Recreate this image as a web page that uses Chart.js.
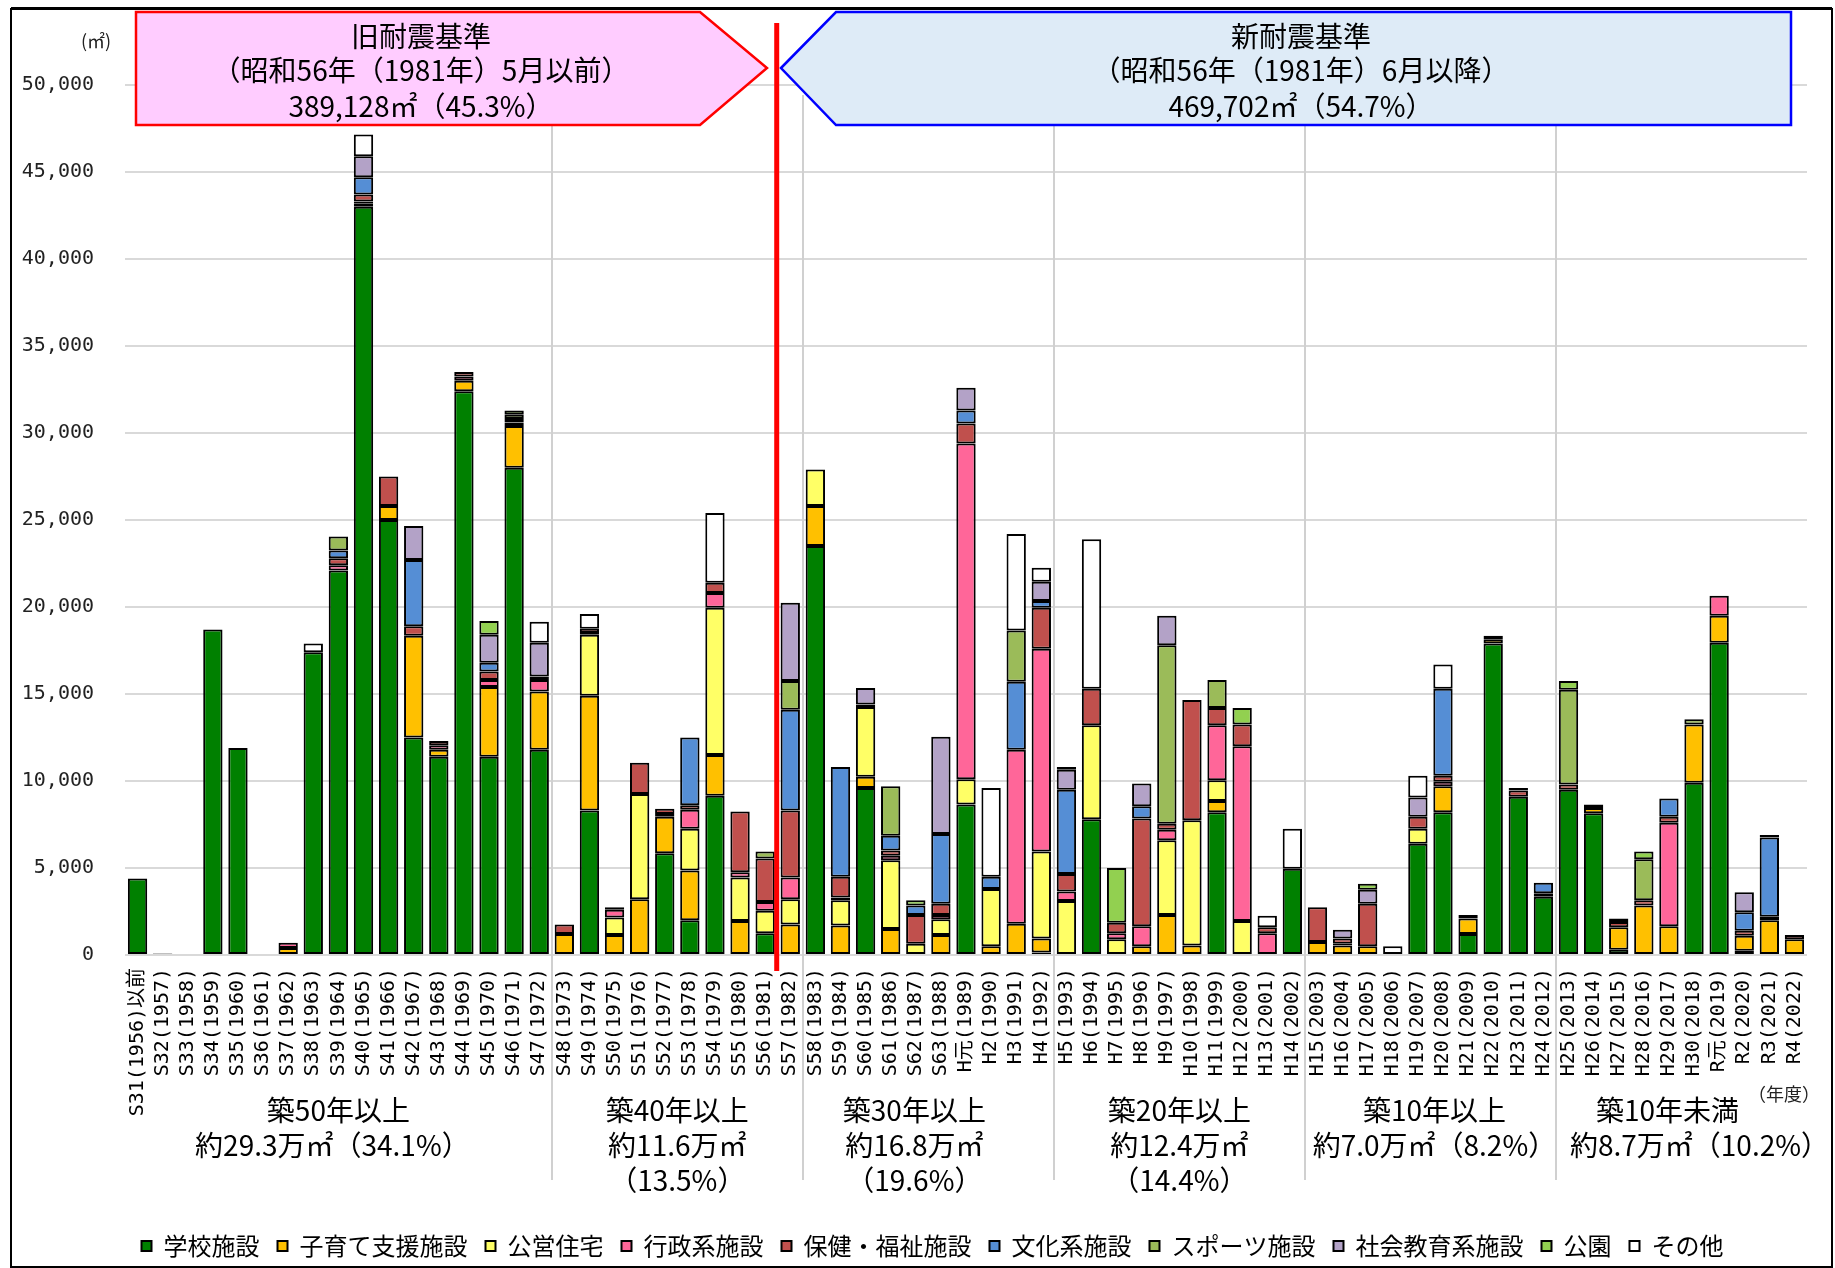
<!DOCTYPE html>
<html><head><meta charset="utf-8">
<script src="https://cdn.jsdelivr.net/npm/chart.js@4.4.1/dist/chart.umd.min.js"></script>
<style>html,body{margin:0;padding:0;background:#fff;}#wrap{width:1835px;height:1268px;position:relative;background:#fff;}</style>
</head><body><div id="wrap"><canvas id="c" width="1835" height="1268"></canvas></div>
<script>
const categories = ['S31(1956)以前','S32(1957)','S33(1958)','S34(1959)','S35(1960)','S36(1961)','S37(1962)','S38(1963)','S39(1964)','S40(1965)',
'S41(1966)','S42(1967)','S43(1968)','S44(1969)','S45(1970)','S46(1971)','S47(1972)','S48(1973)','S49(1974)','S50(1975)',
'S51(1976)','S52(1977)','S53(1978)','S54(1979)','S55(1980)','S56(1981)','S57(1982)','S58(1983)','S59(1984)','S60(1985)',
'S61(1986)','S62(1987)','S63(1988)','H元(1989)','H2(1990)','H3(1991)','H4(1992)','H5(1993)','H6(1994)','H7(1995)',
'H8(1996)','H9(1997)','H10(1998)','H11(1999)','H12(2000)','H13(2001)','H14(2002)','H15(2003)','H16(2004)','H17(2005)',
'H18(2006)','H19(2007)','H20(2008)','H21(2009)','H22(2010)','H23(2011)','H24(2012)','H25(2013)','H26(2014)','H27(2015)',
'H28(2016)','H29(2017)','H30(2018)','R元(2019)','R2(2020)','R3(2021)','R4(2022)'];

const seriesNames = ['学校施設','子育て支援施設','公営住宅','行政系施設','保健・福祉施設','文化系施設','スポーツ施設','社会教育系施設','公園','その他'];

const school = [4400,80,0,18700,11900,60,0,17400,22100,43000,
 25000,12500,11400,32400,11400,28000,11800,0,8300,0,
 0,5850,2000,9150,0,1250,0,23500,0,9600,
 0,0,0,8650,0,0,150,0,7800,0,
 0,0,0,8200,0,0,4950,0,0,0,
 0,6400,8200,1200,17900,9100,3350,9500,8150,300,
 0,0,9900,17950,250,0,0];
const childcare = [0,0,0,0,0,0,400,0,0,200,
 800,5850,400,600,4000,2400,3350,1200,6600,1150,
 3200,2100,2850,2350,1950,0,1750,2300,1700,650,
 1500,0,1150,0,500,1800,800,0,0,0,
 500,2300,550,650,0,0,0,750,550,500,
 0,0,1500,900,250,0,200,0,300,1300,
 2850,1650,3350,1550,850,2000,900];
const housing = [0,0,0,0,0,0,0,0,0,0,
 0,0,0,0,0,0,0,0,3500,1000,
 6050,0,2400,8450,2500,1300,1450,2100,1450,4000,
 3950,650,900,1450,3300,0,5000,3100,5400,900,
 0,4300,7200,1200,1950,0,0,0,0,0,
 0,850,0,0,0,0,0,0,0,0,
 0,0,0,0,0,0,0];
const admin = [0,0,0,0,0,0,300,0,300,100,
 0,0,250,250,400,200,650,0,100,450,
 0,150,1100,850,300,500,1250,0,150,0,
 250,0,250,19300,0,10000,11650,550,0,350,
 1150,600,0,3150,10050,1250,0,0,100,0,
 0,0,250,0,0,0,0,0,0,0,
 0,5950,0,1150,0,0,0];
const welfare = [0,0,0,0,0,0,0,0,400,400,
 1700,550,250,250,500,200,200,550,250,150,
 1800,300,250,600,3500,2500,3850,0,1200,150,
 300,1650,650,1150,0,0,2350,1000,2100,600,
 6200,350,6900,1000,1250,350,0,2000,300,2450,
 0,700,350,200,200,350,0,300,200,300,
 300,350,0,0,300,200,250];
const culture = [0,0,0,0,0,0,0,0,450,1000,
 0,3800,0,0,500,0,0,0,0,0,
 0,0,3900,0,0,0,5800,0,6300,0,
 850,550,4000,750,700,3900,400,4850,0,0,
 700,0,0,0,0,0,0,0,0,0,
 0,0,5000,0,0,0,600,0,0,0,
 0,1050,0,0,1050,4550,0];
const sports = [0,0,0,0,0,0,0,0,800,0,
 0,0,0,0,0,250,0,0,0,0,
 0,0,0,0,0,400,1650,0,0,0,
 2850,0,0,0,0,2950,0,0,0,0,
 0,10250,0,1600,0,0,0,0,0,0,
 0,0,0,0,0,150,0,5450,0,0,
 2350,0,300,0,0,0,0];
const education = [0,0,0,0,0,0,0,0,0,1200,
 0,1950,0,0,1600,0,1950,0,0,0,
 0,0,0,0,0,0,4500,0,0,950,
 0,0,5600,1300,0,0,1100,1150,0,0,
 1300,1700,0,0,0,0,0,0,500,800,
 0,1100,0,0,0,0,0,0,0,200,
 0,0,0,0,1150,150,0];
const parks = [0,0,0,0,0,0,0,0,0,0,
 0,0,0,0,800,250,0,0,0,0,
 0,0,0,0,0,0,0,0,0,0,
 0,300,0,0,0,0,0,0,0,3150,
 0,0,0,0,950,0,0,0,0,350,
 0,0,0,0,0,0,0,500,0,0,
 450,0,0,0,0,0,0];
const others = [0,0,0,0,0,0,0,500,0,1250,
 0,0,0,0,0,0,1200,0,850,0,
 0,0,0,4000,0,0,0,0,0,0,
 0,0,0,0,5100,5550,800,150,8600,0,
 0,0,0,0,0,650,2300,0,0,0,
 500,1250,1400,0,0,0,0,0,0,0,
 0,0,0,0,0,0,0];

const yTicks = [0,5000,10000,15000,20000,25000,30000,35000,40000,45000,50000];

const groups = [
  {from:0, to:16, lines:['築50年以上','約29.3万㎡（34.1%）'], dx:[0,-6]},
  {from:17, to:26, lines:['築40年以上','約11.6万㎡','（13.5%）'], dx:[0,0,0]},
  {from:27, to:36, lines:['築30年以上','約16.8万㎡','（19.6%）'], dx:[-14,-14,-14]},
  {from:37, to:46, lines:['築20年以上','約12.4万㎡','（14.4%）'], dx:[0,0,0]},
  {from:47, to:56, lines:['築10年以上','約7.0万㎡（8.2%）'], dx:[4,4]},
  {from:57, to:66, lines:['築10年未満','約8.7万㎡（10.2%）'], dx:[-14,18]}
];
const oldStd = ['旧耐震基準','（昭和56年（1981年）5月以前）','389,128㎡（45.3%）'];
const newStd = ['新耐震基準','（昭和56年（1981年）6月以降）','469,702㎡（54.7%）'];
const eraBoundaryIndex = 26;

const seriesData = [school, childcare, housing, admin, welfare, culture, sports, education, parks, others];
const seriesColors = ['#008000','#FFC000','#FFFF66','#FF6699','#C0504D','#558ED5','#9BBB59','#B3A2C7','#92D050','#FFFFFF'];

const JP = "'Noto Sans CJK JP', sans-serif";
const MONO = "'DejaVu Sans Mono', 'Noto Sans CJK JP', monospace";

const legendShift = {
  id: 'legendShift',
  afterLayout(chart) {
    const lg = chart.legend;
    if (lg) { lg.left += 29; lg.right += 29; }
  }
};

const decor = {
  id: 'decor',
  afterDraw(chart) {
    const {ctx, chartArea, scales} = chart;
    const x = scales.x;
    ctx.save();
    // group separators
    ctx.strokeStyle = '#D0D0D0';
    ctx.lineWidth = 2;
    groups.slice(1).forEach(g => {
      const px = Math.round((x.getPixelForValue(g.from - 1) + x.getPixelForValue(g.from)) / 2);
      ctx.beginPath(); ctx.moveTo(px, chartArea.top + 10); ctx.lineTo(px, 1180); ctx.stroke();
    });
    // group labels
    ctx.fillStyle = '#000';
    ctx.font = '28px ' + JP;
    ctx.textAlign = 'center';
    ctx.textBaseline = 'middle';
    const ly = [1110, 1145, 1180];
    groups.forEach(g => {
      const cx = (x.getPixelForValue(g.from) + x.getPixelForValue(g.to)) / 2;
      g.lines.forEach((t, i) => ctx.fillText(t, cx + g.dx[i], ly[i]));
    });
    // era boundary red line
    const rx = (x.getPixelForValue(eraBoundaryIndex - 1) + x.getPixelForValue(eraBoundaryIndex)) / 2 - 1;
    ctx.strokeStyle = '#FF0000';
    ctx.lineWidth = 5;
    ctx.beginPath(); ctx.moveTo(rx, 23); ctx.lineTo(rx, 971); ctx.stroke();
    // old standard box (pink arrow)
    ctx.lineWidth = 2.5;
    ctx.fillStyle = '#FFCCFF';
    ctx.strokeStyle = '#FF0000';
    ctx.beginPath();
    ctx.moveTo(136, 12); ctx.lineTo(700, 12); ctx.lineTo(767, 68); ctx.lineTo(700, 125); ctx.lineTo(136, 125); ctx.closePath();
    ctx.fill(); ctx.stroke();
    // new standard box (blue arrow)
    ctx.fillStyle = '#DEEBF7';
    ctx.strokeStyle = '#0000FF';
    ctx.beginPath();
    ctx.moveTo(781, 68); ctx.lineTo(836, 12); ctx.lineTo(1791, 12); ctx.lineTo(1791, 125); ctx.lineTo(836, 125); ctx.closePath();
    ctx.fill(); ctx.stroke();
    ctx.fillStyle = '#000';
    ctx.font = '28px ' + JP;
    const by = [36, 70, 106];
    oldStd.forEach((t, i) => ctx.fillText(t, 421, by[i]));
    newStd.forEach((t, i) => ctx.fillText(t, 1301, by[i]));
    // unit labels
    ctx.font = '18px ' + JP;
    ctx.fillStyle = '#222';
    ctx.fillText('(㎡)', 96, 41);
    ctx.fillText('（年度）', 1784, 1094);
    // outer frame
    ctx.strokeStyle = '#000';
    ctx.lineWidth = 2;
    ctx.strokeRect(11, 9, 1821, 1258);
    ctx.lineWidth = 3;
    ctx.beginPath(); ctx.moveTo(11, 8.5); ctx.lineTo(1832, 8.5); ctx.stroke();
    ctx.restore();
  }
};

const datasets = seriesNames.map((name, i) => ({
  label: name,
  data: seriesData[i],
  backgroundColor: seriesColors[i],
  borderColor: '#000000',
  borderWidth: 2,
  borderSkipped: false,
  barPercentage: 0.77,
  categoryPercentage: 1.0
}));

new Chart(document.getElementById('c'), {
  type: 'bar',
  data: { labels: categories, datasets },
  options: {
    responsive: false,
    animation: false,
    devicePixelRatio: 1,
    layout: { padding: { top: 85, right: 28, bottom: 0, left: 0 } },
    plugins: {
      legend: {
        position: 'bottom',
        labels: {
          font: { family: JP, size: 24 },
          color: '#000',
          boxWidth: 10,
          boxHeight: 10,
          padding: 18
        }
      },
      tooltip: { enabled: false },
      title: { display: false }
    },
    scales: {
      x: {
        stacked: true,
        grid: { display: false, drawTicks: false },
        border: { display: false },
        ticks: {
          autoSkip: false,
          minRotation: 90,
          maxRotation: 90,
          padding: 13,
          color: '#000',
          font: { family: MONO, size: 20 }
        },
        afterFit: (s) => { s.height = 261; }
      },
      y: {
        stacked: true,
        min: 0,
        max: 50000,
        afterBuildTicks: (s) => { s.ticks = yTicks.map(v => ({ value: v })); },
        grid: { color: '#D9D9D9', lineWidth: 2, drawTicks: false },
        border: { display: false },
        ticks: {
          padding: 31,
          color: '#222',
          font: { family: MONO, size: 20 },
          callback: (v) => Number(v).toLocaleString('en-US')
        },
        afterFit: (s) => { s.width = 125; }
      }
    }
  },
  plugins: [legendShift, decor]
});
</script>
</body></html>
